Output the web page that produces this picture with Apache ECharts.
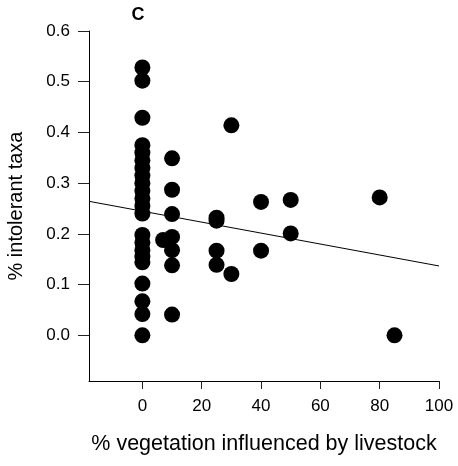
<!DOCTYPE html>
<html>
<head>
<meta charset="utf-8">
<script src="https://cdn.jsdelivr.net/npm/echarts@6/dist/echarts.min.js"></script>
<style>
  html, body { margin: 0; padding: 0; background: #fff; }
  #chart { width: 458px; height: 466px; }
</style>
</head>
<body>
<div id="chart"></div>
<script>
// Site observations: % vegetation influenced by livestock vs. fraction of intolerant taxa
const livestockPct = [
  0, 0, 0, 0, 0, 0, 0, 0, 0, 0, 0, 0, 0, 0, 0, 0, 0, 0, 0, 0, 0, 0,
  7,
  10, 10, 10, 10, 10, 10, 10,
  25, 25, 25, 25,
  30, 30,
  40, 40,
  50, 50,
  80,
  85
];
const intolerantFrac = [
  0.528, 0.502, 0.429, 0.375, 0.360, 0.345, 0.330, 0.315, 0.300, 0.285, 0.270,
  0.255, 0.240, 0.198, 0.183, 0.168, 0.155, 0.144, 0.102, 0.067, 0.042, 0.000,
  0.188,
  0.349, 0.287, 0.239, 0.194, 0.168, 0.138, 0.041,
  0.232, 0.226, 0.167, 0.139,
  0.414, 0.121,
  0.263, 0.167,
  0.267, 0.201,
  0.272,
  0.000
];

// Fitted linear trend
const fitIntercept = 0.2448;
const fitSlope = -0.00108;

const xTicks = [0, 20, 40, 60, 80, 100];
const yTicks = [0.0, 0.1, 0.2, 0.3, 0.4, 0.5, 0.6];
const xRange = [-18, 100];
const yRange = [-0.09, 0.6];

const panelLabel = 'C';
const xTitle = '% vegetation influenced by livestock';
const yTitle = '% intolerant taxa';

const font = '"Liberation Sans", Arial, Helvetica, sans-serif';

const points = livestockPct.map((x, i) => [x, intolerantFrac[i]]);
const trend = xRange.map(x => [x, fitIntercept + fitSlope * x]);

const chart = echarts.init(document.getElementById('chart'), null, { renderer: 'canvas' });
chart.setOption({
  animation: false,
  backgroundColor: '#fff',
  grid: { left: 89, right: 19, top: 31, bottom: 85, containLabel: false, outerBoundsMode: 'none' },
  xAxis: {
    type: 'value',
    min: xRange[0],
    max: xRange[1],
    name: xTitle,
    nameLocation: 'middle',
    nameGap: 52,
    nameTextStyle: { fontFamily: font, fontSize: 21.5, color: '#000' },
    axisLine: { show: true, onZero: false, lineStyle: { color: '#000', width: 1 } },
    axisTick: { show: true, inside: false, length: 8, customValues: xTicks, lineStyle: { color: '#222' } },
    axisLabel: { customValues: xTicks, margin: 17, fontFamily: font, fontSize: 17, color: '#000' },
    splitLine: { show: false }
  },
  yAxis: {
    type: 'value',
    min: yRange[0],
    max: yRange[1],
    name: yTitle,
    nameLocation: 'middle',
    nameGap: 63,
    nameRotate: 90,
    nameTextStyle: { fontFamily: font, fontSize: 20, color: '#000' },
    axisLine: { show: true, onZero: false, lineStyle: { color: '#000', width: 1 } },
    axisTick: { show: true, inside: false, length: 11, customValues: yTicks, lineStyle: { color: '#222' } },
    axisLabel: {
      customValues: yTicks,
      margin: 19,
      fontFamily: font,
      fontSize: 17,
      color: '#000',
      formatter: v => v.toFixed(1)
    },
    splitLine: { show: false }
  },
  graphic: [{
    type: 'text',
    x: 138,
    y: 15,
    style: {
      text: panelLabel,
      font: 'bold 18px ' + font,
      fill: '#000',
      align: 'center',
      verticalAlign: 'middle'
    }
  }],
  series: [
    {
      type: 'scatter',
      data: points,
      symbol: 'circle',
      symbolSize: 16,
      itemStyle: { color: '#000', opacity: 1 },
      z: 2
    },
    {
      type: 'line',
      data: trend,
      symbol: 'none',
      lineStyle: { color: '#000', width: 1 },
      z: 3
    }
  ]
});
</script>
</body>
</html>
